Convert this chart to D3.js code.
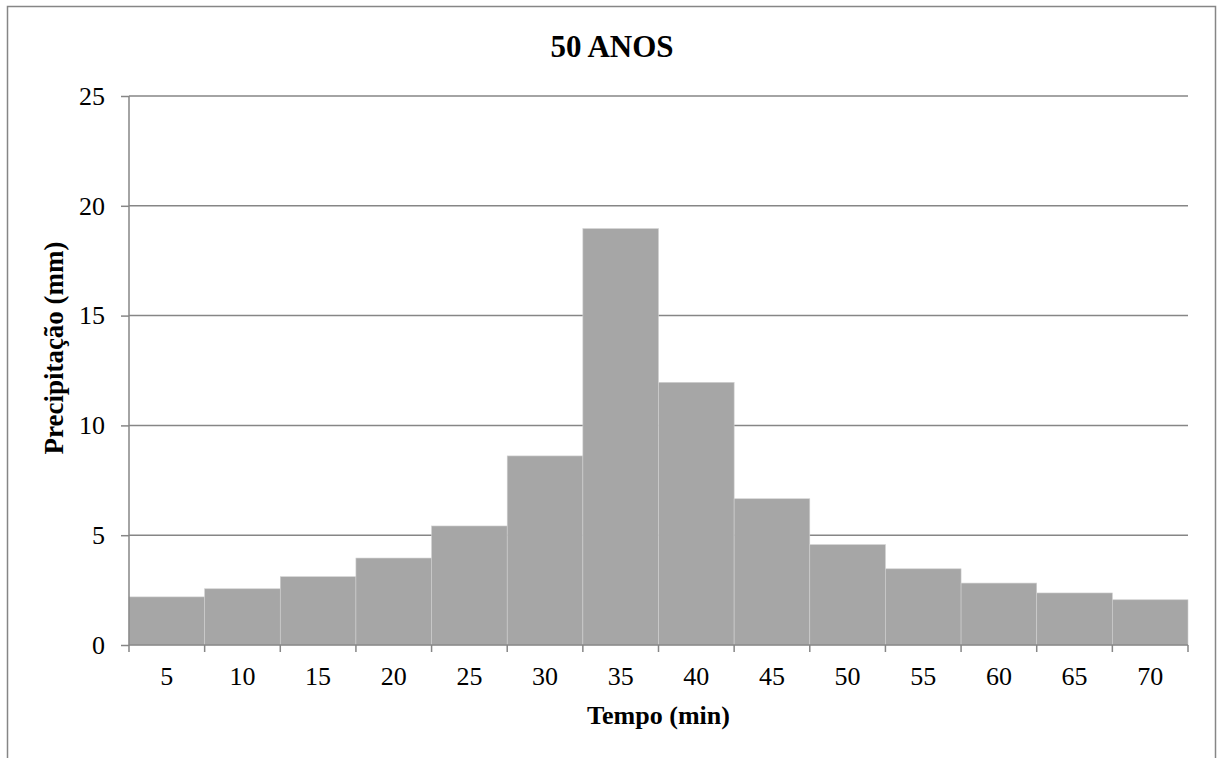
<!DOCTYPE html>
<html>
<head>
<meta charset="utf-8">
<script src="https://cdn.jsdelivr.net/npm/d3@7"></script>
<style>
	body { margin: 0; background: #fff; }
	text { font-family: "Liberation Serif", "Times New Roman", serif; fill: #000; }
</style>
</head>
<body>
<div id="chart"></div>
<script>
// chart data
const tempo = [5, 10, 15, 20, 25, 30, 35, 40, 45, 50, 55, 60, 65, 70];
const precipitacao = [2.19, 2.56, 3.11, 3.96, 5.42, 8.61, 18.96, 11.96, 6.66, 4.57, 3.47, 2.82, 2.37, 2.06];
const yTicks = [0, 5, 10, 15, 20, 25];
const chartTitle = '50 ANOS';
const xTitle = 'Tempo (min)';
const yTitle = 'Precipitação (mm)';

const width = 1218, height = 758;
const margin = { top: 96, right: 30, bottom: 113, left: 129 };
const innerW = width - margin.left - margin.right;
const innerH = height - margin.top - margin.bottom;

const svg = d3.select('#chart').append('svg')
	.attr('width', width)
	.attr('height', height);

// outer chart frame
svg.append('rect')
	.attr('x', 7.5).attr('y', 6.5)
	.attr('width', 1208).attr('height', 800)
	.attr('fill', 'none')
	.attr('stroke', '#868686')
	.attr('stroke-width', 1.5);

const chart = svg.append('g')
	.attr('transform', `translate(${margin.left},${margin.top})`);

const x = d3.scaleBand()
	.domain(tempo)
	.range([0, innerW])
	.padding(0);

const y = d3.scaleLinear()
	.domain([0, 25])
	.range([innerH, 0]);

// gridlines
chart.append('g')
	.selectAll('line')
	.data(yTicks.filter(d => d > 0))
	.join('line')
	.attr('x1', 0).attr('x2', innerW)
	.attr('y1', d => y(d)).attr('y2', d => y(d))
	.attr('stroke', '#868686')
	.attr('stroke-width', 1.5);

// bars
chart.append('g')
	.selectAll('rect')
	.data(tempo)
	.join('rect')
	.attr('x', d => x(d))
	.attr('y', (d, i) => y(precipitacao[i]))
	.attr('width', x.bandwidth())
	.attr('height', (d, i) => innerH - y(precipitacao[i]))
	.attr('fill', '#a6a6a6')
	.attr('stroke', '#d0d0d0')
	.attr('stroke-width', 0.6);

// y axis
const yAxis = chart.append('g')
	.call(d3.axisLeft(y).tickValues(yTicks).tickSize(8).tickPadding(16));
yAxis.select('.domain').attr('stroke', '#868686').attr('stroke-width', 1.5).attr('d', `M0,${innerH}V0`);
yAxis.selectAll('.tick line').attr('stroke', '#868686').attr('stroke-width', 1.5);
yAxis.selectAll('.tick text')
	.attr('font-size', 26)
	.attr('font-family', '"Liberation Serif", serif')
	.attr('fill', '#000');

// x axis: ticks between categories
const xAxis = chart.append('g')
	.attr('transform', `translate(0,${innerH})`);
xAxis.append('line')
	.attr('x1', 0).attr('x2', innerW)
	.attr('stroke', '#868686')
	.attr('stroke-width', 1.5);
xAxis.selectAll('.xtick')
	.data(tempo.concat(['end']))
	.join('line')
	.attr('class', 'xtick')
	.attr('x1', d => d === 'end' ? innerW : x(d))
	.attr('x2', d => d === 'end' ? innerW : x(d))
	.attr('y1', 0).attr('y2', 7)
	.attr('stroke', '#868686')
	.attr('stroke-width', 1.5);
xAxis.selectAll('.xlabel')
	.data(tempo)
	.join('text')
	.attr('class', 'xlabel')
	.attr('x', d => x(d) + x.bandwidth() / 2)
	.attr('y', 40)
	.attr('text-anchor', 'middle')
	.attr('font-size', 26)
	.text(d => d);

// titles
svg.append('text')
	.attr('x', 612).attr('y', 57)
	.attr('text-anchor', 'middle')
	.attr('font-size', 31)
	.attr('font-weight', 'bold')
	.text(chartTitle);

svg.append('text')
	.attr('x', margin.left + innerW / 2).attr('y', 724)
	.attr('text-anchor', 'middle')
	.attr('font-size', 26)
	.attr('font-weight', 'bold')
	.text(xTitle);

svg.append('text')
	.attr('transform', 'translate(63,348) rotate(-90)')
	.attr('text-anchor', 'middle')
	.attr('font-size', 27)
	.attr('font-weight', 'bold')
	.text(yTitle);
</script>
</body>
</html>
